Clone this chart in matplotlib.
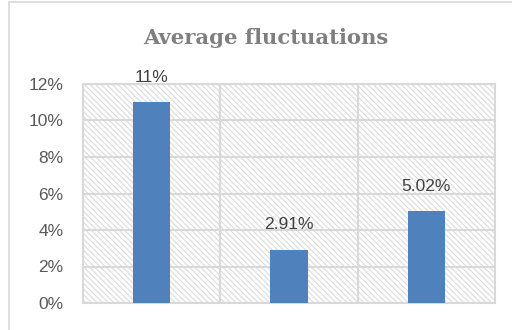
import matplotlib
matplotlib.use("Agg")
import matplotlib.pyplot as plt
from matplotlib.patches import Rectangle
from matplotlib.ticker import FuncFormatter

categories = ["", "", ""]
values = [0.11, 0.0291, 0.0502]
value_labels = ["11%", "2.91%", "5.02%"]
yticks = [0, 0.02, 0.04, 0.06, 0.08, 0.10, 0.12]
title = "Average fluctuations"

plt.rcParams["hatch.linewidth"] = 0.9

fig = plt.figure(figsize=(5.12, 3.30), dpi=100)
fig.patch.set_facecolor("white")
# outer chart border
fig.patches.append(Rectangle((9/512, -0.5), 2, 1.5 - 1.5/330, transform=fig.transFigure,
                             fill=False, edgecolor="#d9d9d9", lw=1.2, zorder=0))

ax = fig.add_axes([83/512, 1 - 303/330, 412/512, 219/330])
ax.set_xlim(-0.5, 2.5)
ax.set_ylim(0, 0.12)

bg = Rectangle((0, 0), 1, 1, transform=ax.transAxes, facecolor="white",
               edgecolor="#dedede", hatch="\\" * 6, lw=0, zorder=0)
ax.add_patch(bg)

for y in yticks:
    ax.axhline(y, color="#d9d9d9", lw=1.5, zorder=1)
for x in [0.5, 1.5]:
    ax.axvline(x, color="#d9d9d9", lw=1.5, zorder=1)

xs = list(range(len(values)))
ax.bar(xs, values, width=0.27, color="#4f81bd", zorder=3)

for x, v, lab in zip(xs, values, value_labels):
    ax.annotate(lab, (x, v), xytext=(0, 18), textcoords="offset points",
                ha="center", va="center", fontsize=12.5, color="#404040",
                family="Liberation Sans")

ax.set_yticks(yticks)
ax.yaxis.set_major_formatter(FuncFormatter(lambda v, p: f"{v*100:.0f}%"))
ax.set_xticks(xs)
ax.set_xticklabels(categories)
ax.tick_params(axis="both", length=0, colors="#595959", labelsize=12.5)
ax.tick_params(axis="y", pad=14)
for t in ax.get_yticklabels():
    t.set_family("Liberation Sans")
for s in ax.spines.values():
    s.set_color("#d9d9d9")
    s.set_linewidth(1.5)

fig.text(266/512, 1 - 38/330, title, ha="center", va="center", fontsize=15.2,
         fontweight="bold", color="#7f7f7f", family="DejaVu Serif")

fig.savefig("out.png", dpi=100)
